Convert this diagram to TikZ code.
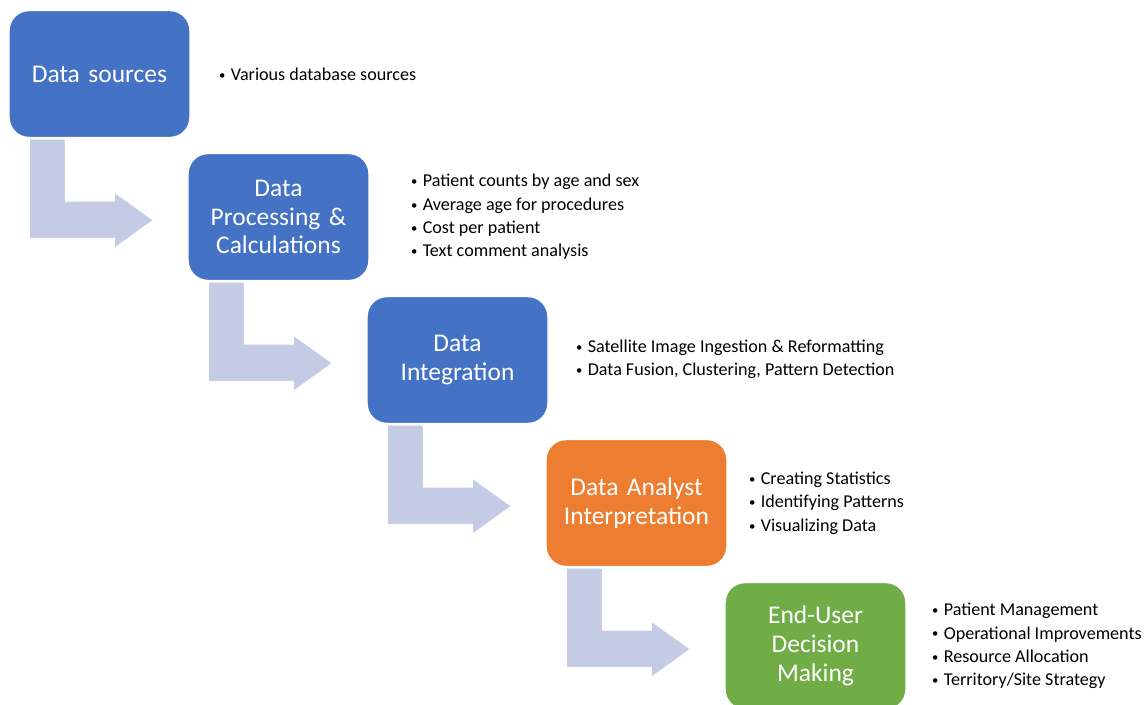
\documentclass[tikz,border=0pt]{standalone}
\usepackage{fontspec}
\setmainfont{Carlito}
\usepackage{graphicx}
\usepackage{xcolor}
\usepackage{tikz}
\usetikzlibrary{calc}
\definecolor{stepblue}{HTML}{4472C4}
\definecolor{steporange}{HTML}{ED7D31}
\definecolor{stepgreen}{HTML}{70AD47}
\definecolor{flowfill}{HTML}{C3CBE5}
\newcommand{\itm}{\raisebox{0.12ex}{\scalebox{0.7}{\textbullet}}\hspace{0.3em}}
\tikzset{
  box/.style={rectangle, rounded corners=0.4cm, draw=white, line width=0.8pt,
    minimum width=3.62cm, minimum height=2.54cm, text width=3.4cm, align=center,
    text=white, font=\fontsize{14.5}{16.4}\selectfont, inner sep=0pt},
  note/.style={anchor=west, align=left, inner sep=0pt,
    font=\fontsize{10.3}{13.3}\selectfont},
  flow/.style={fill=flowfill, draw=white, line width=0.5pt},
}
% bent step arrow below box #1
\newcommand{\stepArrow}[1]{%
  \draw[flow] ($(#1.south west)+(21,1)$) -- ($(#1.south west)+(21,100)$)
    -- ($(#1.south west)+(106,100)$) -- ($(#1.south west)+(106,110)$)
    -- ($(#1.south west)+(145,82)$) -- ($(#1.south west)+(106,54)$)
    -- ($(#1.south west)+(106,63)$) -- ($(#1.south west)+(57,63)$)
    -- ($(#1.south west)+(57,1)$) -- cycle;}

\begin{document}
\begin{tikzpicture}[x=0.02cm,y=-0.02cm]
  \useasboundingbox (0,0) rectangle (1147,704);
  \clip (0,0) rectangle (1147,704);

  \node[box,fill=stepblue] (src) at (99.5,74) {Data sources};
  \node[box,fill=stepblue] (proc) at (278.5,217) {Data\\Processing \&\\Calculations};
  \node[box,fill=stepblue] (integ) at (457.5,360) {Data\\Integration};
  \node[box,fill=steporange] (anal) at (636.5,503) {Data Analyst\\Interpretation};
  \node[box,fill=stepgreen] (user) at (815.5,646) {End-User\\Decision\\Making};

  \stepArrow{src}
  \stepArrow{proc}
  \stepArrow{integ}
  \stepArrow{anal}

  \node[note] (srcnote) at ($(src.east)+(28,0)$) {\itm Various database sources};
  \node[note] (procnote) at ($(proc.east)+(41,0)$) {\itm Patient counts by age and sex\\
    \itm Average age for procedures\\
    \itm Cost per patient\\
    \itm Text comment analysis};
  \node[note] (integnote) at ($(integ.east)+(27,-1)$) {\itm Satellite Image Ingestion \& Reformatting\\
    \itm Data Fusion, Clustering, Pattern Detection};
  \node[note] (analnote) at ($(anal.east)+(21,0)$) {\itm Creating Statistics\\
    \itm Identifying Patterns\\
    \itm Visualizing Data};
  \node[note] (usernote) at ($(user.east)+(25,0)$) {\itm Patient Management\\
    \itm Operational Improvements\\
    \itm Resource Allocation\\
    \itm Territory/Site Strategy};
\end{tikzpicture}
\end{document}
